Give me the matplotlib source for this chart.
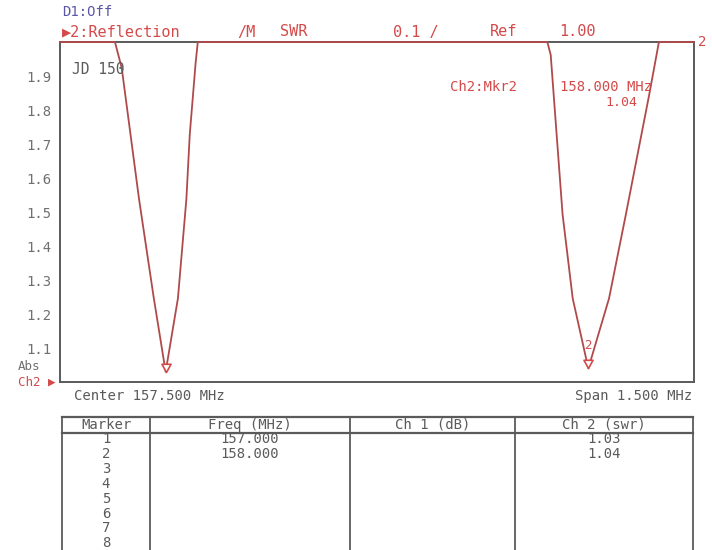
import matplotlib
matplotlib.use("Agg")
import matplotlib.pyplot as plt
import numpy as np
from matplotlib.path import Path
from matplotlib.markers import MarkerStyle

# ---------------- data ----------------
freq_mhz = [156.750, 156.880, 156.896, 156.937, 156.972, 157.000, 157.029, 157.049,
            157.057, 157.071, 157.076, 157.903, 157.911, 157.939, 157.963, 158.000,
            158.049, 158.089, 158.144, 158.167, 158.250]
swr = [2.00, 2.00, 1.924, 1.538, 1.246, 1.03, 1.246, 1.538,
       1.728, 1.94, 2.00, 2.00, 1.962, 1.494, 1.246, 1.04,
       1.246, 1.494, 1.845, 2.00, 2.00]
marker_freq = [157.000, 158.000]
marker_swr = [1.03, 1.04]
y_ticks = [1.1, 1.2, 1.3, 1.4, 1.5, 1.6, 1.7, 1.8, 1.9]
table_cols = ["Marker", "Freq (MHz)", "Ch 1 (dB)", "Ch 2 (swr)"]
table_markers = ["1", "2", "3", "4", "5", "6", "7", "8"]
table_freq = ["157.000", "158.000"]
table_ch2 = ["1.03", "1.04"]

RED = "#d44a4a"
TRACE = "#b04a4a"
GRAY = "#5a5a5a"
BLUE = "#5a56a8"
MONO = ["DejaVu Sans Mono", "DejaVu Sans"]

W, H = 712, 550
fig = plt.figure(figsize=(W / 100, H / 100), dpi=100)
fig.patch.set_facecolor("white")

L, R, T, B = 60, 694, 42, 382
ax = fig.add_axes([L / W, 1 - B / H, (R - L) / W, (B - T) / H])
ax.set_xlim(156.75, 158.25)
ax.set_ylim(1.0, 2.0)
ax.plot(freq_mhz, swr, color=TRACE, lw=1.3, clip_on=False, zorder=3)

tri = Path([(0, 0), (-1.1, 2.0), (1.1, 2.0), (0, 0)],
           [Path.MOVETO, Path.LINETO, Path.LINETO, Path.CLOSEPOLY])
ax.scatter(marker_freq, marker_swr, marker=MarkerStyle(tri), s=140,
           facecolors="white", edgecolors=RED, linewidths=1.2, zorder=4, clip_on=False)
ax.annotate("2", (marker_freq[1], marker_swr[1]), xytext=(0, 12), textcoords="offset points",
            ha="center", va="bottom", color=RED, fontsize=9, family=MONO)

ax.set_xticks([])
ax.set_yticks(y_ticks)
ax.set_yticklabels([f"{v:.1f}" for v in y_ticks], family=MONO, fontsize=10, color="#707070")
ax.tick_params(axis="y", length=0, pad=6)
for s in ["left", "right", "bottom", "top"]:
    ax.spines[s].set_color(GRAY)
    ax.spines[s].set_linewidth(1.4)

# overlay in pixel coords for texts and table
ov = fig.add_axes([0, 0, 1, 1])
ov.set_xlim(0, W)
ov.set_ylim(H, 0)
ov.axis("off")
ov.patch.set_alpha(0)

def txt(x, y, s, color=GRAY, size=10, ha="left", **kw):
    ov.text(x, y, s, color=color, fontsize=size, ha=ha, va="center", family=MONO, **kw)

txt(62, 12, "D1:Off", color=BLUE, size=10)
txt(62, 32, "\u25b62:Reflection", color=RED, size=11)
txt(237, 32, "/M", color=RED, size=11)
txt(280, 32, "SWR", color=RED, size=11)
txt(393, 32, "0.1 /", color=RED, size=11)
txt(490, 32, "Ref", color=RED, size=11)
txt(559, 32, "1.00", color=RED, size=11)
txt(698, 42, "2", color=RED, size=10)
txt(72, 70, "JD 150", color=GRAY, size=10.5)
txt(450, 87, "Ch2:Mkr2", color=RED, size=10)
txt(560, 87, "158.000 MHz", color=RED, size=10)
txt(637, 102, "1.04", color=RED, size=9.5, ha="right")
txt(18, 367, "Abs", color="#707070", size=9)
txt(18, 382, "Ch2 \u25b6", color=RED, size=9)
txt(74, 396, "Center 157.500 MHz", color=GRAY, size=10)
txt(692, 396, "Span 1.500 MHz", color=GRAY, size=10, ha="right")

# table
col_x = [62, 150, 350, 515, 693]
tbl_top, hdr_bot = 417, 433
ov.plot([col_x[0], col_x[-1]], [tbl_top, tbl_top], color=GRAY, lw=1.6)
ov.plot([col_x[0], col_x[-1]], [hdr_bot, hdr_bot], color=GRAY, lw=1.6)
for xv in col_x:
    ov.plot([xv, xv], [tbl_top, H], color=GRAY, lw=1.3)
for i, name in enumerate(table_cols):
    txt((col_x[i] + col_x[i + 1]) / 2, 425, name, size=10, ha="center")
row_y0, row_dy = 439, 14.9
for i, m in enumerate(table_markers):
    txt((col_x[0] + col_x[1]) / 2, row_y0 + i * row_dy, m, size=10, ha="center")
for i, f in enumerate(table_freq):
    txt((col_x[1] + col_x[2]) / 2, row_y0 + i * row_dy, f, size=10, ha="center")
for i, c in enumerate(table_ch2):
    txt((col_x[3] + col_x[4]) / 2, row_y0 + i * row_dy, c, size=10, ha="center")

fig.savefig("out.png", dpi=100)
